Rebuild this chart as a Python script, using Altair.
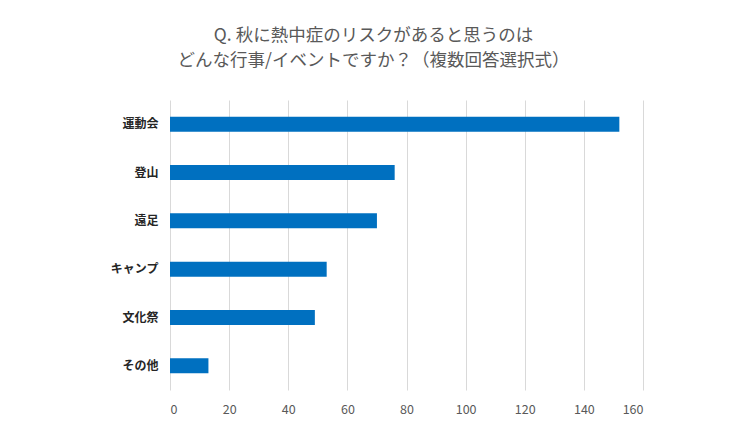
import altair as alt
import pandas as pd

categories = ["運動会", "登山", "遠足", "キャンプ", "文化祭", "その他"]
values = [152, 76, 70, 53, 49, 13]
x_ticks = [0, 20, 40, 60, 80, 100, 120, 140, 160]

df = pd.DataFrame({"category": categories, "value": values})

font = "Noto Sans CJK JP"

chart = alt.Chart(df).mark_bar(color="#0070C0").encode(
    x=alt.X("value:Q",
            scale=alt.Scale(domain=[0, 160], nice=False),
            axis=alt.Axis(values=x_ticks, title=None, ticks=False, domain=False,
                          grid=True, gridColor="#d9d9d9", gridWidth=1,
                          labelColor="#595959", labelFontSize=12.5, labelFont=font,
                          labelPadding=13)),
    y=alt.Y("category:N", sort=categories,
            scale=alt.Scale(paddingInner=0.69, paddingOuter=0.345),
            axis=alt.Axis(title=None, ticks=False, domain=False,
                          labelColor="#262626", labelFontSize=12, labelFont=font,
                          labelFontWeight="bold", labelPadding=12)),
).properties(
    width=473,
    height=290,
    autosize=alt.AutoSizeParams(type="none"),
    padding={"left": 162, "top": 92, "right": 83, "bottom": 29},
    title=alt.TitleParams(
        text=["Q. 秋に熱中症のリスクがあると思うのは", "どんな行事/イベントですか？（複数回答選択式）"],
        font=font, fontSize=17.5, fontWeight="normal", color="#595959",
        anchor="middle", dx=-33, offset=31, lineHeight=25,
    ),
).configure_view(stroke=None)

chart.save("out.html", embed_options={"renderer": "svg", "actions": False})
